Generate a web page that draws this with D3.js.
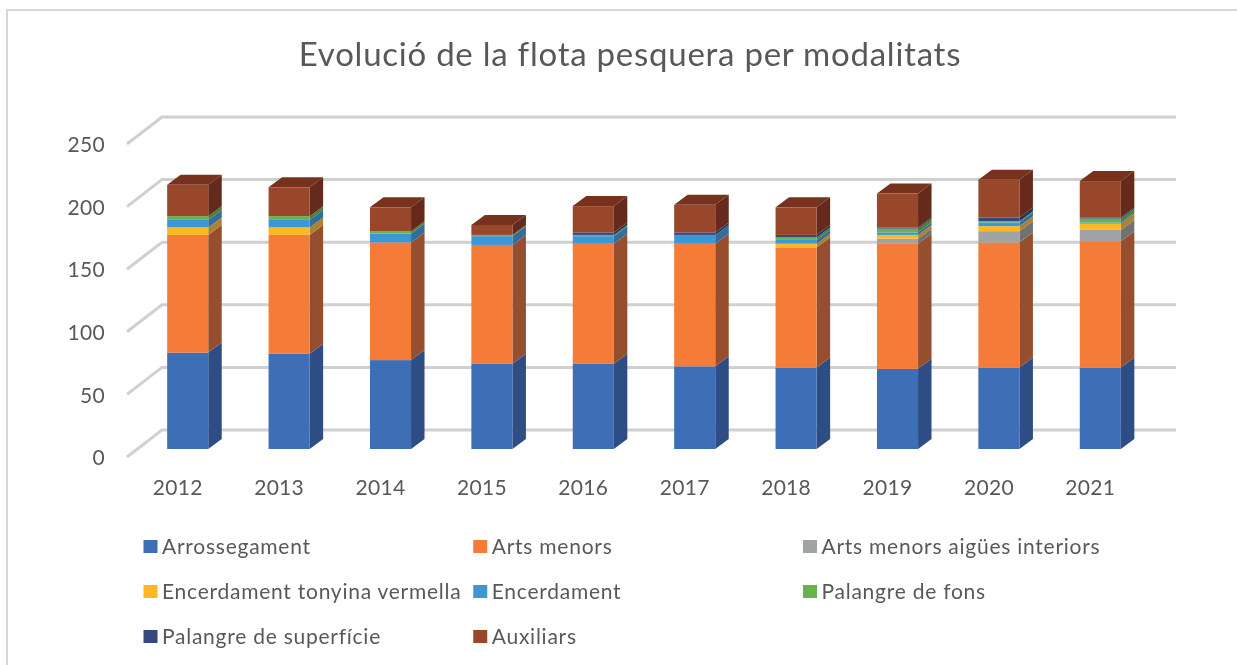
<!DOCTYPE html>
<html>
<head>
<meta charset="utf-8">
<script src="https://cdn.jsdelivr.net/npm/d3@7/dist/d3.min.js"></script>
<style>
	html, body { margin: 0; padding: 0; background: #fff; overflow: hidden; }
	text { font-family: Lato, "Open Sans", sans-serif; fill: #595959; }
</style>
</head>
<body>
<script>
	var years = ["2012", "2013", "2014", "2015", "2016", "2017", "2018", "2019", "2020", "2021"];
	var arrossegament = [77, 76, 71, 68, 68, 66, 65, 64, 65, 65];
	var artsMenors = [94, 95, 94, 95, 96, 98, 96, 100, 100, 101];
	var artsInteriors = [0, 0, 0, 0, 0, 0, 0, 4, 9, 9];
	var tonyina = [6, 6, 0, 0, 0, 0, 3, 3, 4, 5];
	var encerdament = [6, 6, 7, 7, 6, 7, 3, 2, 3, 1];
	var palangreFons = [3, 3, 2, 1, 1, 0, 2, 3, 1, 3];
	var palangreSuperficie = [0, 0, 0, 0, 2, 2, 2, 1, 3, 1];
	var auxiliars = [25, 23, 19, 8, 21, 22, 22, 27, 30, 29];

	var seriesNames = ["Arrossegament", "Arts menors", "Arts menors aigües interiors", "Encerdament tonyina vermella",
		"Encerdament", "Palangre de fons", "Palangre de superfície", "Auxiliars"];
	var seriesValues = [arrossegament, artsMenors, artsInteriors, tonyina, encerdament, palangreFons, palangreSuperficie, auxiliars];
	var frontColors = ["#3c6eb6", "#f47b38", "#a0a3a3", "#feb822", "#3e97d5", "#69b34f", "#36497f", "#99472a"];
	var sideColors = ["#2f4d85", "#96502e", "#6f7272", "#ab8230", "#336d9c", "#4b7f3a", "#27345a", "#652a1b"];
	var topColor = "#76321f";
	var yTicks = [0, 50, 100, 150, 200, 250];

	var width = 1237,
		height = 665,
		wallDx = 35,
		wallDy = -27,
		barShiftX = 10,
		barShiftY = -8,
		barDx = 13.5,
		barDy = -10;

	var rows = years.map(function (d, i) {
		var row = { year: d };
		seriesNames.forEach(function (name, s) { row[name] = seriesValues[s][i]; });
		return row;
	});
	var stacked = d3.stack().keys(seriesNames)(rows);

	var x = d3.scaleBand().domain(years).range([127, 1141]).paddingInner(0.595).paddingOuter(0.2975);
	var y = d3.scaleLinear().domain([0, 250]).range([457, 144]);

	var svg = d3.select("body").append("svg")
		.attr("width", width)
		.attr("height", height)
		.style("display", "block");

	var blur = svg.append("defs").append("filter").attr("id", "soft");
	blur.append("feGaussianBlur").attr("stdDeviation", 0.6);

	// frame: only top and left edges show in the picture
	svg.append("path")
		.attr("d", "M7," + height + "V10H" + width)
		.attr("fill", "none")
		.attr("stroke", "#d6d6d6")
		.attr("stroke-width", 2);

	svg.append("text")
		.text("Evolució de la flota pesquera per modalitats")
		.attr("x", 630)
		.attr("y", 66)
		.style("font-size", "33px")
		.style("letter-spacing", "0.75px")
		.style("text-anchor", "middle")
		.attr("filter", "url(#soft)");

	// gridlines on the back wall and the left side wall
	var grid = svg.append("g").attr("filter", "url(#soft)");
	grid.selectAll("path")
		.data(yTicks)
		.enter()
		.append("path")
		.attr("d", function (d) {
			return "M" + x.range()[0] + "," + y(d) + "l" + wallDx + "," + wallDy + "H" + (x.range()[1] + wallDx);
		})
		.attr("fill", "none")
		.attr("stroke", "#d0d0d0")
		.attr("stroke-width", 3);

	var bars = svg.append("g").attr("filter", "url(#soft)");
	var groups = bars.selectAll("g.serie")
		.data(stacked)
		.enter()
		.append("g")
		.attr("class", "serie");

	groups.selectAll("path.side")
		.data(function (d, s) { return d.map(function (p) { return { s: s, p: p }; }); })
		.enter()
		.append("path")
		.attr("class", "side")
		.filter(function (d) { return d.p[1] > d.p[0]; })
		.attr("d", function (d) {
			var right = x(d.p.data.year) + x.bandwidth() + barShiftX;
			var y0 = y(d.p[0]) + barShiftY, y1 = y(d.p[1]) + barShiftY;
			return "M" + right + "," + y0 + "V" + y1 + "l" + barDx + "," + barDy + "V" + (y0 + barDy) + "Z";
		})
		.attr("fill", function (d) { return sideColors[d.s]; });

	groups.selectAll("rect")
		.data(function (d, s) { return d.map(function (p) { return { s: s, p: p }; }); })
		.enter()
		.append("rect")
		.attr("x", function (d) { return x(d.p.data.year) + barShiftX; })
		.attr("y", function (d) { return y(d.p[1]) + barShiftY; })
		.attr("width", x.bandwidth())
		.attr("height", function (d) { return y(d.p[0]) - y(d.p[1]); })
		.attr("fill", function (d) { return frontColors[d.s]; });

	// lid of each column, on the last series
	bars.selectAll("path.lid")
		.data(stacked[stacked.length - 1])
		.enter()
		.append("path")
		.attr("class", "lid")
		.attr("d", function (d) {
			var left = x(d.data.year) + barShiftX;
			var top = y(d[1]) + barShiftY;
			return "M" + left + "," + top + "l" + barDx + "," + barDy + "h" + x.bandwidth() + "l" + (-barDx) + "," + (-barDy) + "Z";
		})
		.attr("fill", topColor);

	var yAxis = svg.append("g")
		.attr("transform", "translate(111,1)")
		.attr("filter", "url(#soft)")
		.call(d3.axisLeft(y).tickValues(yTicks).tickSize(0).tickPadding(6));
	yAxis.select(".domain").remove();
	yAxis.selectAll("text").style("font-size", "21px").style("font-family", "Lato").style("letter-spacing", "0.3px").attr("fill", "#595959");

	var xAxis = svg.append("g")
		.attr("transform", "translate(0,480)")
		.attr("filter", "url(#soft)")
		.call(d3.axisBottom(x).tickSize(0).tickPadding(0));
	xAxis.select(".domain").remove();
	xAxis.selectAll("text").style("font-size", "21px").style("font-family", "Lato").style("letter-spacing", "0.3px").attr("fill", "#595959");

	var legendX = d3.scalePoint().domain([0, 1, 2]).range([143.5, 803]);
	var legendY = d3.scalePoint().domain([0, 1, 2]).range([540, 630]);

	var legend = svg.selectAll("g.legend")
		.data(seriesNames)
		.enter()
		.append("g")
		.attr("class", "legend")
		.attr("filter", "url(#soft)")
		.attr("transform", function (d, i) {
			return "translate(" + legendX(i % 3) + "," + legendY(Math.floor(i / 3)) + ")";
		});

	legend.append("rect")
		.attr("width", 14)
		.attr("height", 13)
		.attr("fill", function (d, i) { return frontColors[i]; });

	legend.append("text")
		.text(function (d) { return d; })
		.attr("x", 18.5)
		.attr("y", 14)
		.style("font-size", "21px")
		.style("letter-spacing", "0.75px");
</script>
</body>
</html>
